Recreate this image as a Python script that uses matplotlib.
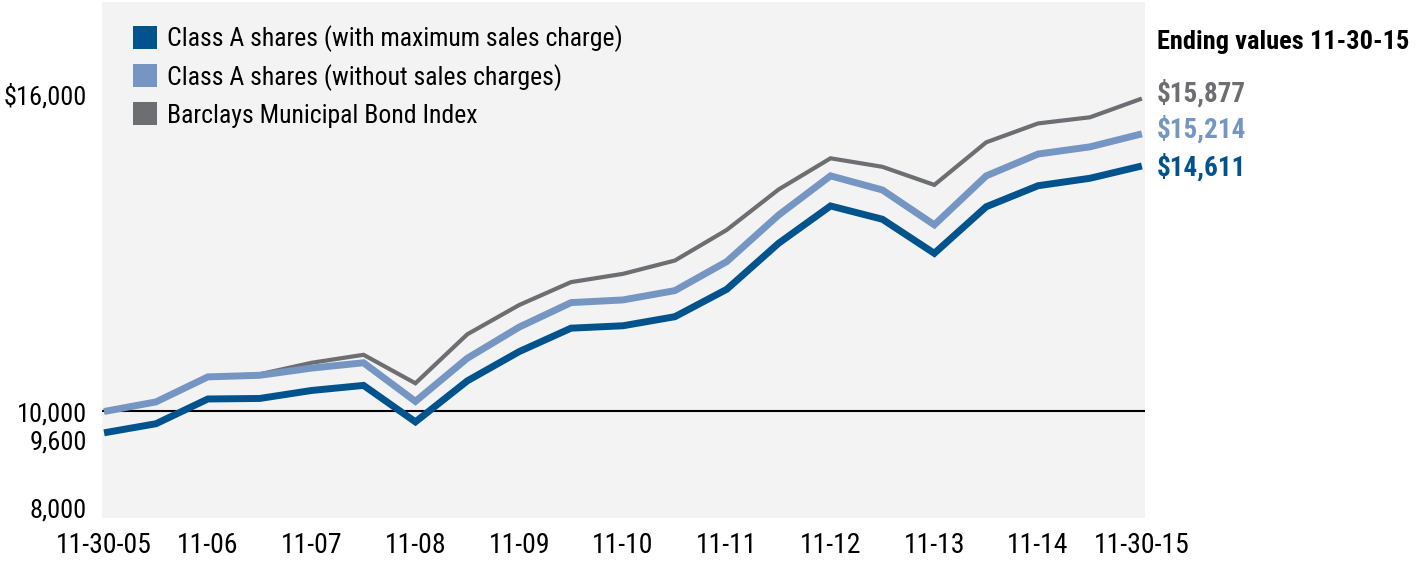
import matplotlib
matplotlib.use('Agg')
import matplotlib.pyplot as plt
from matplotlib import font_manager
from matplotlib.patches import Patch
import matplotlib.transforms as mtransforms

# ---------------- data ----------------
periods = list(range(21))  # semi-annual points 11-30-05 .. 11-30-15
tick_positions = list(range(0, 21, 2))
tick_labels = ['11-30-05', '11-06', '11-07', '11-08', '11-09', '11-10',
               '11-11', '11-12', '11-13', '11-14', '11-30-15']

with_charge = [9600, 9770, 10235, 10245, 10395, 10490, 9805, 10575, 11125, 11565,
               11610, 11780, 12295, 13160, 13860, 13610, 12970, 13845, 14240, 14380, 14611]
without_charge = [10000, 10180, 10650, 10680, 10815, 10915, 10190, 11000, 11585, 12045,
                  12095, 12270, 12815, 13690, 14425, 14160, 13505, 14425, 14835, 14970, 15214]
index_values = [10000, 10170, 10640, 10700, 10915, 11065, 10530, 11450, 12000, 12430,
                12585, 12835, 13410, 14170, 14755, 14595, 14255, 15055, 15410, 15525, 15877]

series_names = ['Class A shares (with maximum sales charge)',
                'Class A shares (without sales charges)',
                'Barclays Municipal Bond Index']
ending_labels = ['$14,611', '$15,214', '$15,877']
ending_title = 'Ending values 11-30-15'

ytick_values = [8000, 9600, 10000, 16000]
ytick_labels = ['8,000', '9,600', '10,000', '$16,000']

# ---------------- style ----------------
names = {f.name for f in font_manager.fontManager.ttflist}
FONT = 'DejaVu Sans'
for cand in ['Liberation Sans Narrow', 'Roboto Condensed', 'Open Sans Condensed', 'Roboto']:
    if cand in names:
        FONT = cand
        break
plt.rcParams['font.family'] = [FONT, 'DejaVu Sans']

DARK = '#00538c'
LIGHT = '#7596c3'
GRAY = '#6d6e71'
BG = '#f3f3f4'

W, H = 1419, 564
fig = plt.figure(figsize=(W / 100, H / 100), dpi=100)
fig.patch.set_facecolor('white')

ax_left, ax_right, ax_top, ax_bottom = 102, 1145, 2, 518
ax = fig.add_axes([ax_left / W, 1 - ax_bottom / H,
                   (ax_right - ax_left) / W, (ax_bottom - ax_top) / H])
ax.set_facecolor(BG)
for s in ax.spines.values():
    s.set_visible(False)

ax.set_xlim(-0.04, 20.06)
ax.set_ylim(8000, 17690)

ax.axhline(10000, color='black', lw=1.5, zorder=1)

ax.plot(periods, index_values, color=GRAY, lw=3.0, zorder=2,
        solid_joinstyle='miter', solid_capstyle='butt')
ax.plot(periods, without_charge, color=LIGHT, lw=5.0, zorder=3,
        solid_joinstyle='miter', solid_capstyle='butt')
ax.plot(periods, with_charge, color=DARK, lw=5.0, zorder=4,
        solid_joinstyle='miter', solid_capstyle='butt')

# x ticks
ax.set_xticks(tick_positions)
ax.set_xticklabels(tick_labels, fontsize=20)
ax.tick_params(axis='x', length=0, pad=10)

# y ticks
ax.set_yticks(ytick_values)
ax.set_yticklabels(ytick_labels, fontsize=19)
ax.tick_params(axis='y', length=0, pad=11)
y_offsets_px = [10, -7, -1, -2]
for t, dy in zip(ax.yaxis.get_major_ticks(), y_offsets_px):
    t.label1.set_transform(t.label1.get_transform() +
                           mtransforms.ScaledTranslation(0, dy / 100, fig.dpi_scale_trans))

# legend
handles = [Patch(facecolor=c, edgecolor='none') for c in [DARK, LIGHT, GRAY]]
leg = ax.legend(handles, series_names, loc='upper left',
                bbox_to_anchor=(133 / W, 1 - 25 / H), bbox_transform=fig.transFigure,
                frameon=False, borderpad=0, borderaxespad=0,
                handlelength=0.93, handleheight=1.0, handletextpad=0.4,
                labelspacing=0.46, fontsize=18.5)

# ending values
fig.text(1157 / W, 1 - 42 / H, ending_title, fontsize=19, fontweight='bold',
         ha='left', va='center', color='black')
end_colors = [DARK, LIGHT, GRAY]
end_dy = [-1, 4, 5]
series_list = [with_charge, without_charge, index_values]
for lab, c, ser, dy in zip(ending_labels, end_colors, series_list, end_dy):
    ax.annotate(lab, xy=(periods[-1], ser[-1]), xytext=(15, dy),
                textcoords='offset pixels', ha='left', va='center',
                fontsize=19.5, fontweight='bold', color=c, annotation_clip=False)

fig.savefig('out.png', dpi=100, facecolor='white')
